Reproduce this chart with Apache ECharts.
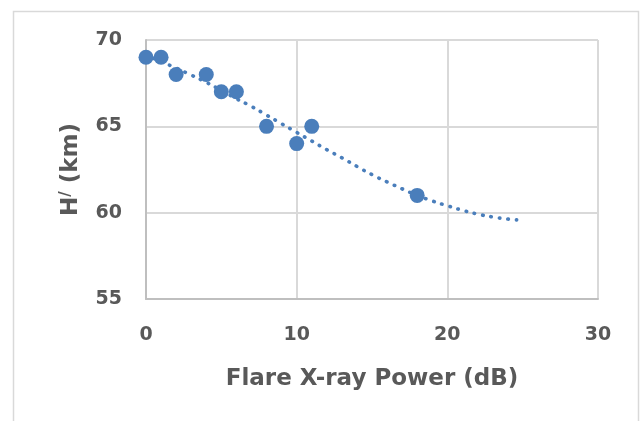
<!DOCTYPE html>
<html>
<head>
<meta charset="utf-8">
<script src="https://cdn.jsdelivr.net/npm/echarts@6/dist/echarts.min.js"></script>
<style>
  html, body { margin: 0; padding: 0; background: #fff; }
  #chart { width: 642px; height: 421px; }
</style>
</head>
<body>
<div id="chart"></div>
<script>
// measured points: flare power (dB) vs reflection height H/ (km)
const powerDb = [0, 1, 2, 4, 5, 6, 8, 10, 11, 18]
const heightKm = [69, 69, 68, 68, 67, 67, 65, 64, 65, 61]

// dotted polynomial trendline
const trendX = [0, 1, 2, 3, 4, 5, 6, 7, 8, 9, 10, 11, 12, 13, 14, 15, 16, 17, 18, 19, 20, 21, 22, 23, 24, 24.6]
const trendY = [69.12, 68.75, 68.37, 67.97, 67.55, 67.08, 66.6, 66.15, 65.65, 65.15, 64.65, 64.15, 63.65, 63.18, 62.68, 62.2, 61.78, 61.38, 61.0, 60.68, 60.4, 60.14, 59.92, 59.75, 59.63, 59.58]

const xTicks = { min: 0, max: 30, interval: 10 }
const yTicks = { min: 55, max: 70, interval: 5 }

const blue = '#4a7ebb'
const font = 'DejaVu Sans'

const myChart = echarts.init(document.getElementById('chart'))
myChart.setOption({
  animation: false,
  grid: {
    left: 146,
    right: 44,
    top: 40,
    bottom: 122
  },
  graphic: [{
    type: 'rect',
    shape: { x: 13.5, y: 11.5, width: 625, height: 430 },
    style: { fill: 'none', stroke: '#d9d9d9', lineWidth: 1.5 },
    silent: true
  }],
  xAxis: {
    type: 'value',
    min: xTicks.min,
    max: xTicks.max,
    interval: xTicks.interval,
    name: 'Flare X-ray Power (dB)',
    nameLocation: 'middle',
    nameGap: 69,
    nameTextStyle: {
      color: '#595959',
      fontFamily: font,
      fontWeight: 'bold',
      fontSize: 23
    },
    axisLine: { lineStyle: { color: '#bfbfbf', width: 2 } },
    axisTick: { show: false },
    axisLabel: {
      margin: 27,
      color: '#595959',
      fontFamily: font,
      fontWeight: 'bold',
      fontSize: 19
    },
    splitLine: { lineStyle: { color: '#d9d9d9', width: 2 } }
  },
  yAxis: {
    type: 'value',
    min: yTicks.min,
    max: yTicks.max,
    interval: yTicks.interval,
    name: '{a|H}{b|/}{a| (km)}',
    nameLocation: 'middle',
    nameGap: 62,
    nameTextStyle: {
      color: '#595959',
      fontFamily: font,
      fontWeight: 'bold',
      fontSize: 23,
      rich: {
        a: { color: '#595959', fontFamily: font, fontWeight: 'bold', fontSize: 23 },
        b: { color: '#595959', fontFamily: font, fontWeight: 'bold', fontSize: 15, padding: [0, 0, 10, 0] }
      }
    },
    axisLine: { show: true, lineStyle: { color: '#bfbfbf', width: 2 } },
    axisTick: { show: false },
    axisLabel: {
      margin: 24,
      color: '#595959',
      fontFamily: font,
      fontWeight: 'bold',
      fontSize: 19
    },
    splitLine: { lineStyle: { color: '#d9d9d9', width: 2 } }
  },
  series: [
    {
      name: 'trend',
      type: 'line',
      data: trendX.map((x, i) => [x, trendY[i]]),
      smooth: true,
      showSymbol: false,
      symbol: 'none',
      lineStyle: {
        color: blue,
        width: 3.6,
        type: [0.5, 8],
        cap: 'round'
      },
      z: 2
    },
    {
      name: 'H',
      type: 'scatter',
      data: powerDb.map((x, i) => [x, heightKm[i]]),
      symbolSize: 15,
      itemStyle: { color: blue, opacity: 1 },
      z: 3
    }
  ]
})
</script>
</body>
</html>
